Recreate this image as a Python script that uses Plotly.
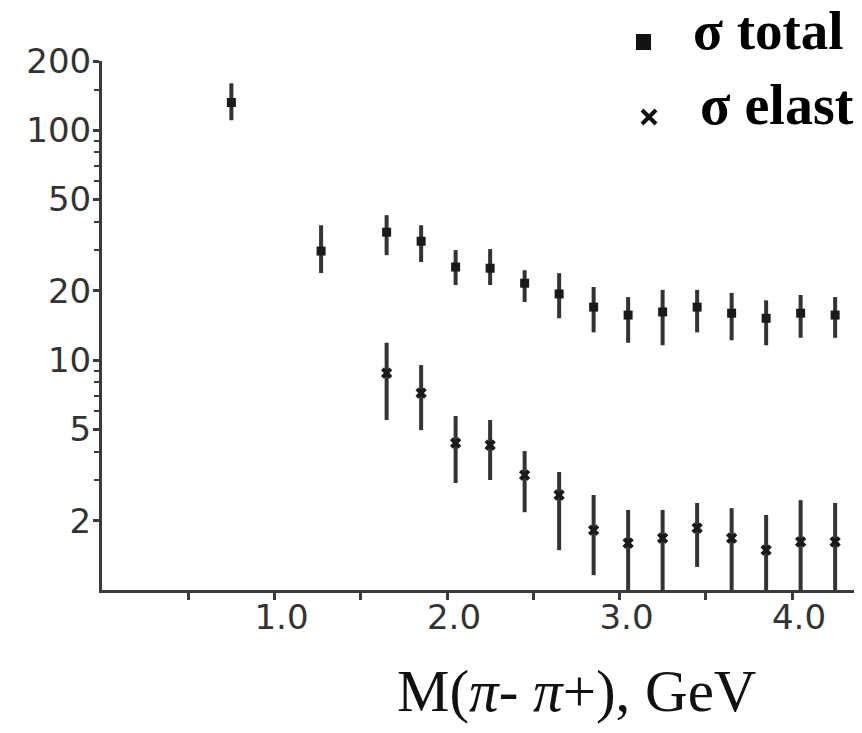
import plotly.graph_objects as go

# ---- data ----
x_total = [0.75, 1.27, 1.65, 1.85, 2.05, 2.25, 2.45, 2.65, 2.85, 3.05, 3.25, 3.45, 3.65, 3.85, 4.05, 4.25]
sigma_total = [132, 29.8, 36.0, 32.9, 25.4, 25.1, 21.6, 19.4, 17.0, 15.7, 16.2, 17.0, 16.0, 15.2, 16.0, 15.7]
total_upper = [160, 38.6, 42.7, 38.6, 30.1, 30.4, 24.6, 23.9, 20.8, 18.8, 20.2, 20.2, 19.6, 18.2, 19.2, 18.8]
total_lower = [110.5, 23.9, 28.6, 26.7, 21.2, 21.2, 17.9, 15.2, 13.2, 11.9, 11.6, 13.2, 12.2, 11.6, 12.5, 12.5]

x_elastic = [1.65, 1.85, 2.05, 2.25, 2.45, 2.65, 2.85, 3.05, 3.25, 3.45, 3.65, 3.85, 4.05, 4.25]
sigma_elastic = [8.78, 7.19, 4.36, 4.27, 3.16, 2.59, 1.82, 1.60, 1.68, 1.86, 1.68, 1.49, 1.62, 1.62]
elastic_upper = [11.9, 9.51, 5.71, 5.49, 4.02, 3.26, 2.59, 2.23, 2.23, 2.39, 2.27, 2.12, 2.46, 2.39]
elastic_lower = [5.49, 4.96, 2.92, 3.01, 2.18, 1.49, 1.16, 0.9, 0.9, 1.26, 0.9, 0.9, 0.9, 0.9]

y_tick_vals = [2, 5, 10, 20, 50, 100, 200]
y_tick_text = ["2", "5", "10", "20", "50", "100", "200"]
y_minor_vals = [3, 4, 6, 7, 8, 9, 30, 40, 60, 70, 80, 90, 150]
x_tick_vals = [1.0, 2.0, 3.0, 4.0]
x_tick_text = ["1.0", "2.0", "3.0", "4.0"]
x_minor_vals = [0.5, 1.5, 2.5, 3.5]

legend_total = "σ total"
legend_elastic = "σ elastic"
x_title = "M(<i>π</i>- <i>π</i>+), GeV"

# ---- layout geometry ----
# the page body has an 8px default margin, so the figure is drawn 8px in
OFF = 8
PAGE_W, PAGE_H = 862, 733
W, H = PAGE_W - OFF, PAGE_H - OFF
PLOT_L, PLOT_R, PLOT_T, PLOT_B = 102, 862, 61, 590   # page pixels of plot area
L, R, T, B = PLOT_L - OFF, PAGE_W - PLOT_R, PLOT_T - OFF, PAGE_H - PLOT_B
PW, PH = PLOT_R - PLOT_L, PLOT_B - PLOT_T


def px_x(px):
    return (px - PLOT_L) / PW


def px_y(py):
    return (PLOT_B - py) / PH


INK = "#1a1a1a"
AXC = "#3a3a3a"

fig = go.Figure()

fig.add_trace(go.Scatter(
    x=x_total, y=sigma_total, mode="markers", showlegend=False,
    marker=dict(symbol="square", size=9, color=INK),
    error_y=dict(type="data", symmetric=False,
                 array=[u - v for u, v in zip(total_upper, sigma_total)],
                 arrayminus=[v - l for v, l in zip(sigma_total, total_lower)],
                 thickness=4, width=0, color="#333333"),
))

fig.add_trace(go.Scatter(
    x=x_elastic, y=sigma_elastic, mode="markers", showlegend=False,
    marker=dict(symbol="x", size=10, color=INK),
    error_y=dict(type="data", symmetric=False,
                 array=[u - v for u, v in zip(elastic_upper, sigma_elastic)],
                 arrayminus=[v - l for v, l in zip(sigma_elastic, elastic_lower)],
                 thickness=4, width=0, color="#333333"),
))

tick_font = dict(family="DejaVu Sans", size=34, color="#333333")

fig.update_layout(
    width=W, height=H,
    margin=dict(l=L, r=R, t=T, b=B, pad=0, autoexpand=False),
    paper_bgcolor="white", plot_bgcolor="white",
    xaxis=dict(range=[0, PW / 172.5], showgrid=False, zeroline=False,
               showline=True, linecolor=AXC, linewidth=3,
               ticks="outside", ticklen=7, tickwidth=3, tickcolor=AXC,
               tickvals=x_tick_vals, ticktext=x_tick_text, tickfont=tick_font,
               ticklabelshift=7, ticklabelstandoff=-12, automargin=False,
               minor=dict(tickvals=x_minor_vals, ticks="outside", ticklen=7,
                          tickwidth=3, tickcolor=AXC, showgrid=False)),
    yaxis=dict(type="log", range=[0, 2.30103], showgrid=False, zeroline=False,
               showline=True, linecolor=AXC, linewidth=3,
               ticks="outside", ticklen=6, tickwidth=3, tickcolor=AXC,
               tickvals=y_tick_vals, ticktext=y_tick_text, tickfont=tick_font,
               ticklabelstandoff=-5, automargin=False,
               minor=dict(tickvals=y_minor_vals, ticks="outside", ticklen=5,
                          tickwidth=2, tickcolor=AXC, showgrid=False)),
)

fig.add_annotation(xref="paper", yref="paper", x=px_x(691), y=px_y(30),
                   xanchor="left", yanchor="middle", showarrow=False,
                   text="<b>" + legend_total + "</b>",
                   font=dict(family="Liberation Serif", size=55, color="#000000"))
fig.add_annotation(xref="paper", yref="paper", x=px_x(698), y=px_y(105),
                   xanchor="left", yanchor="middle", showarrow=False,
                   text="<b>" + legend_elastic + "</b>",
                   font=dict(family="Liberation Serif", size=56, color="#000000"))
fig.add_annotation(xref="paper", yref="paper", x=px_x(576), y=px_y(691),
                   xanchor="center", yanchor="middle", showarrow=False,
                   text=x_title,
                   font=dict(family="Liberation Serif", size=59, color="#111111"))

# legend symbols
fig.add_shape(type="rect", xref="paper", yref="paper",
              x0=px_x(636), x1=px_x(651), y0=px_y(50), y1=px_y(34),
              fillcolor="#111111", line=dict(width=0))
fig.add_shape(type="line", xref="paper", yref="paper",
              x0=px_x(642), x1=px_x(656), y0=px_y(110), y1=px_y(124),
              line=dict(color="#111111", width=4))
fig.add_shape(type="line", xref="paper", yref="paper",
              x0=px_x(642), x1=px_x(656), y0=px_y(124), y1=px_y(110),
              line=dict(color="#111111", width=4))

fig.write_html("out.html")
